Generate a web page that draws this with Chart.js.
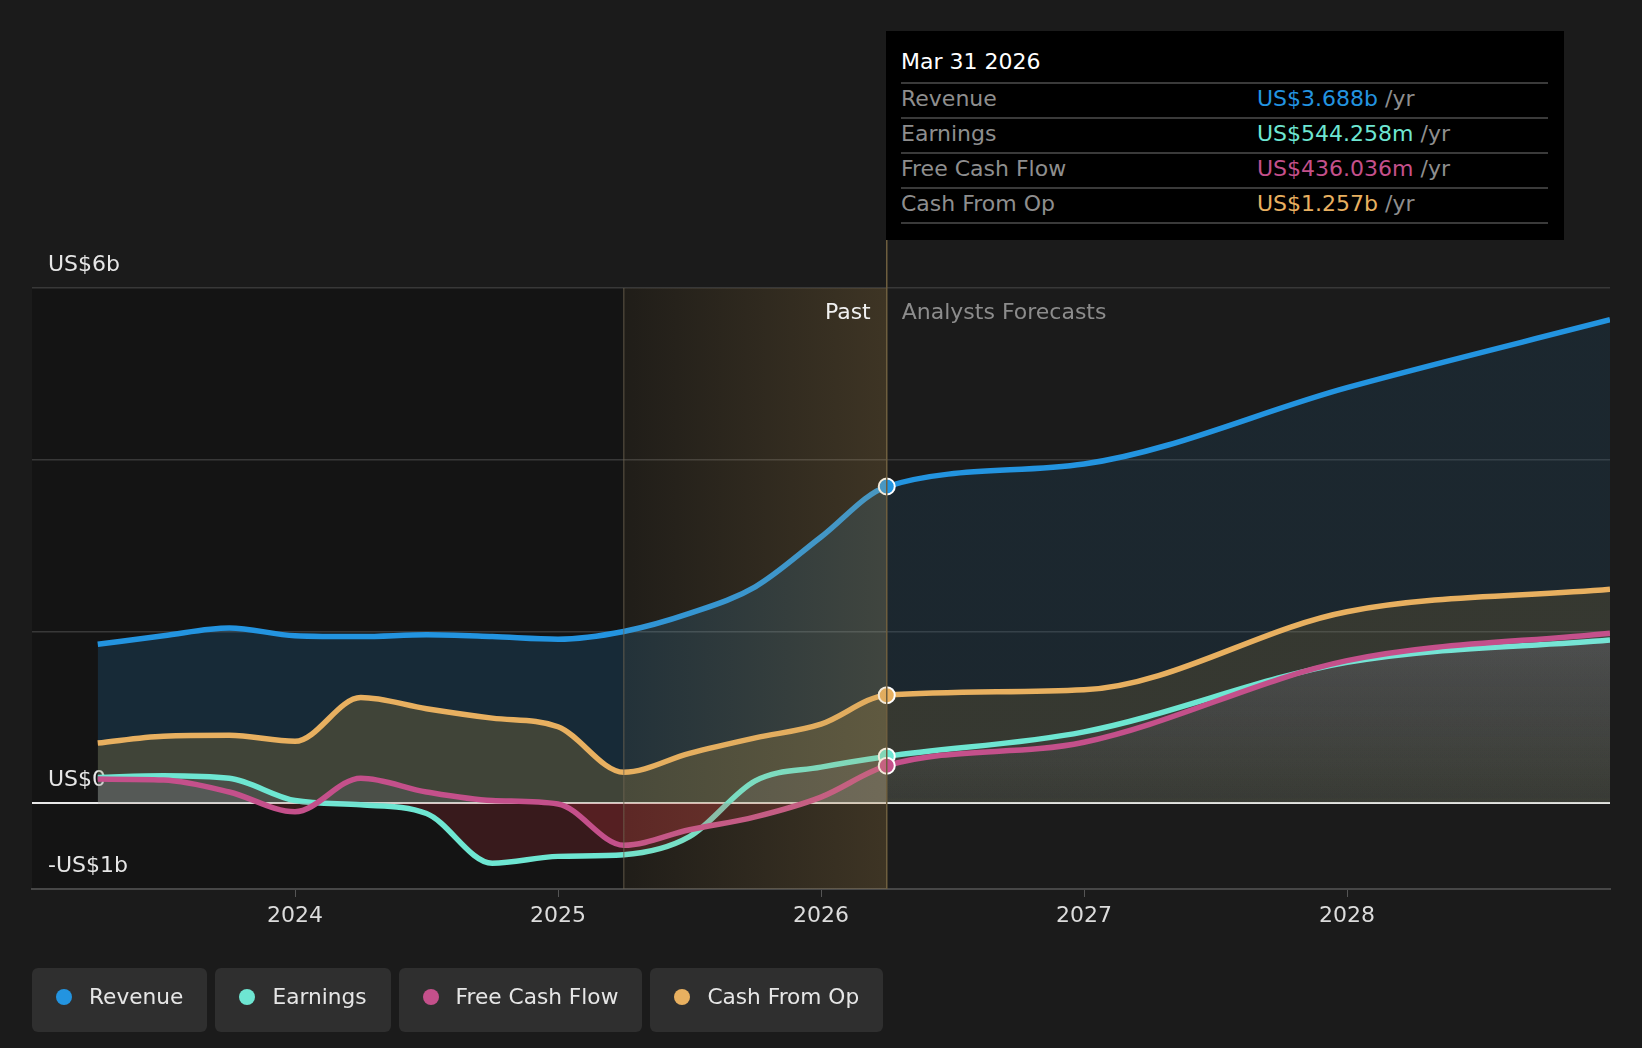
<!DOCTYPE html>
<html>
<head>
<meta charset="utf-8">
<script src="https://cdn.jsdelivr.net/npm/chart.js@4.4.1/dist/chart.umd.min.js"></script>
<style>
  html, body { margin: 0; padding: 0; background: #1b1b1b; }
  body { width: 1642px; height: 1048px; position: relative; overflow: hidden; font-family: "DejaVu Sans", sans-serif; }
  #wrap { position: absolute; left: 0; top: 0; width: 1642px; height: 1048px; }
  #tip { position: absolute; left: 886px; top: 31px; width: 678px; height: 209px; background: #000; box-sizing: border-box; padding: 18px 16px 0 15px; }
  #tip .title { color: #fff; font-size: 22px; line-height: 26px; margin-bottom: 7px; }
  #tip .row { border-top: 2px solid #3a3a3a; height: 33px; line-height: 29px; font-size: 22px; display: flex; }
  #tip .row.last { height: 0; }
  #tip .lab { width: 356px; color: #8e8e8e; }
  #tip .unit { color: #8e8e8e; }
  #legend { position: absolute; left: 32px; top: 968px; display: flex; gap: 8px; }
  #legend .item { height: 64px; box-sizing: border-box; border-radius: 6px; background: #2f2f2f; display: flex; align-items: center; padding: 0 24px 7px 24px; color: #e6e6e6; font-size: 21.7px; }
  #legend .dot { width: 16px; height: 16px; border-radius: 50%; margin-right: 17px; }
</style>
</head>
<body>
<div id="wrap"><canvas id="chart"></canvas></div>
<div id="tip"></div>
<div id="legend"></div>
<script>
// quarterly history, then analyst forecasts (US$ billions)
const periods = ['Mar 2023', 'Jun 2023', 'Sep 2023', 'Dec 2023', 'Mar 2024', 'Jun 2024', 'Sep 2024', 'Dec 2024',
  'Mar 2025', 'Jun 2025', 'Sep 2025', 'Dec 2025', 'Mar 2026', 'Dec 2026', 'Dec 2027', 'Dec 2028'];
const revenue = [1.85, 1.95, 2.04, 1.95, 1.94, 1.96, 1.94, 1.91, 2.00, 2.21, 2.52, 3.10, 3.688, 3.95, 4.84, 5.63];
const earnings = [0.30, 0.32, 0.29, 0.03, -0.02, -0.12, -0.70, -0.62, -0.60, -0.39, 0.26, 0.42, 0.544, 0.83, 1.64, 1.90];
const freeCashFlow = [0.28, 0.27, 0.13, -0.10, 0.29, 0.13, 0.03, -0.01, -0.49, -0.31, -0.16, 0.07, 0.436, 0.71, 1.66, 1.98];
const cashFromOp = [0.70, 0.78, 0.79, 0.72, 1.23, 1.10, 0.99, 0.89, 0.36, 0.58, 0.76, 0.92, 1.257, 1.32, 2.23, 2.49];

const xTickYears = [2024, 2025, 2026, 2027, 2028];
const yTickValues = [-1, 0, 2, 4, 6];
const yTickLabels = ['-US$1b', 'US$0', '', '', 'US$6b'];

const markerPeriod = 'Mar 2026';
const bandStart = 'Mar 2025';
const tipTitle = 'Mar 31 2026';
const tipValues = ['US$3.688b', 'US$544.258m', 'US$436.036m', 'US$1.257b'];

const names = ['Revenue', 'Earnings', 'Free Cash Flow', 'Cash From Op'];
const colors = ['#2394e0', '#6ee6d2', '#c4508b', '#e8b060'];

const FONT = '"DejaVu Sans", sans-serif';
const months = { Mar: 3, Jun: 6, Sep: 9, Dec: 12 };
function toYear(p) {
  const [m, y] = p.split(' ');
  return Number(y) + months[m] / 12;
}
const markerIndex = periods.indexOf(markerPeriod);

// fill styles: past part is a bit stronger, forecast part lighter
const fillStyles = [
  { above: 'rgba(35,148,224,0.17)', below: 'rgba(35,148,224,0.17)', future: ['rgba(35,148,224,0.1)', 'rgba(35,148,224,0.1)'] },
  { above: 'rgba(210,205,255,0.08)', below: 'rgba(200,50,60,0.2)', future: ['rgba(210,205,255,0.08)', 'rgba(210,205,255,0.012)'] },
  { above: 'rgba(210,205,255,0.08)', below: 'rgba(200,50,60,0.2)', future: ['rgba(210,205,255,0.08)', 'rgba(210,205,255,0.012)'] },
  { above: 'rgba(230,170,60,0.2)', below: 'rgba(230,170,60,0.2)', future: ['rgba(230,170,60,0.13)', 'rgba(230,170,60,0.13)'] }
];
const patterns = {};

function areaFill(i) {
  return ctx => {
    const chart = ctx.chart;
    const st = fillStyles[i];
    if (!chart.chartArea || !chart.scales.y) return st.above;
    const key = i + ':' + chart.width + 'x' + chart.height;
    if (patterns[key]) return patterns[key];
    const { x, y } = chart.scales;
    const off = document.createElement('canvas');
    off.width = chart.width;
    off.height = chart.height;
    const c = off.getContext('2d');
    const now = x.getPixelForValue(toYear(markerPeriod));
    const zero = y.getPixelForValue(0);
    c.fillStyle = st.above;
    c.fillRect(0, 0, now, zero);
    c.fillStyle = st.below;
    c.fillRect(0, zero, now, chart.height - zero);
    const g = c.createLinearGradient(0, y.getPixelForValue(2), 0, zero);
    g.addColorStop(0, st.future[0]);
    g.addColorStop(1, st.future[1]);
    c.fillStyle = g;
    c.fillRect(now, 0, chart.width - now, chart.height);
    patterns[key] = chart.ctx.createPattern(off, 'no-repeat');
    return patterns[key];
  };
}

// draw order: revenue at the back, then cash from op, earnings, FCF in front
const depth = [4, 2, 1, 3];

function series(values, i) {
  return {
    label: names[i],
    data: periods.map((p, k) => ({ x: toYear(p), y: values[k] })),
    borderColor: colors[i],
    borderWidth: 5.5,
    cubicInterpolationMode: 'monotone',
    fill: 'origin',
    backgroundColor: areaFill(i),
    order: depth[i],
    pointRadius: ctx => ctx.dataIndex === markerIndex ? 8 : 0,
    pointBackgroundColor: colors[i],
    pointBorderColor: '#fff',
    pointBorderWidth: 2
  };
}

const bandPlugin = {
  id: 'band',
  beforeDraw(chart) {
    const { ctx, chartArea: a, scales: { x } } = chart;
    const now = x.getPixelForValue(toYear(markerPeriod));
    ctx.save();
    ctx.fillStyle = '#141414';
    ctx.fillRect(a.left, a.top, now - a.left, a.bottom - a.top);
    ctx.restore();
  },
  afterDatasetsDraw(chart) {
    const { ctx, chartArea: a, scales: { x } } = chart;
    const now = x.getPixelForValue(toYear(markerPeriod));
    const start = x.getPixelForValue(toYear(bandStart));
    ctx.save();
    const g = ctx.createLinearGradient(start, 0, now, 0);
    g.addColorStop(0, 'rgba(200,160,90,0.065)');
    g.addColorStop(1, 'rgba(200,160,90,0.23)');
    ctx.fillStyle = g;
    ctx.fillRect(start, a.top, now - start, a.bottom - a.top);
    ctx.lineWidth = 1.5;
    ctx.strokeStyle = 'rgba(110,100,80,0.55)';
    ctx.beginPath();
    ctx.moveTo(start, a.top);
    ctx.lineTo(start, a.bottom);
    ctx.stroke();
    ctx.strokeStyle = '#6e5e3e';
    ctx.beginPath();
    ctx.moveTo(now, a.top - 48);
    ctx.lineTo(now, a.bottom);
    ctx.stroke();
    ctx.font = '22px ' + FONT;
    ctx.textBaseline = 'middle';
    ctx.textAlign = 'right';
    ctx.fillStyle = '#f0f0f0';
    ctx.fillText('Past', now - 16, a.top + 25);
    ctx.textAlign = 'left';
    ctx.fillStyle = '#8c8c8c';
    ctx.fillText('Analysts Forecasts', now + 15, a.top + 25);
    ctx.restore();
  }
};

new Chart(document.getElementById('chart'), {
  type: 'line',
  data: {
    datasets: [
      series(revenue, 0),
      series(earnings, 1),
      series(freeCashFlow, 2),
      series(cashFromOp, 3)
    ]
  },
  options: {
    responsive: true,
    maintainAspectRatio: false,
    animation: false,
    events: [],
    layout: { padding: { top: 288, right: 32, bottom: 113, left: 0 } },
    plugins: { legend: { display: false }, tooltip: { enabled: false } },
    scales: {
      x: {
        type: 'linear',
        min: 2023,
        max: 2029,
        afterBuildTicks: s => { s.ticks = xTickYears.map(v => ({ value: v })); },
        afterFit: s => { s.height = 46; },
        ticks: { callback: v => String(v), color: '#dcdcdc', font: { size: 22, family: FONT }, padding: 6, maxRotation: 0, autoSkip: false },
        grid: { drawOnChartArea: false, drawTicks: true, tickLength: 8, color: '#555' },
        border: { color: '#474747', width: 2 }
      },
      y: {
        min: -1,
        max: 6,
        afterBuildTicks: s => { s.ticks = yTickValues.map(v => ({ value: v })); },
        afterFit: s => { s.width = 32; },
        ticks: {
          mirror: true,
          padding: 16,
          labelOffset: -23,
          color: '#e6e6e6',
          font: { size: 22, family: FONT },
          callback: v => yTickLabels[yTickValues.indexOf(v)]
        },
        grid: {
          drawTicks: false,
          color: c => c.tick.value === 0 ? '#e8e8e8' : (c.tick.value > 0 ? '#383838' : 'rgba(0,0,0,0)'),
          lineWidth: c => c.tick.value === 0 ? 2 : 1.5
        },
        border: { display: false }
      }
    }
  },
  plugins: [bandPlugin]
});

// tooltip box for the latest reported period
const tip = document.getElementById('tip');
tip.innerHTML = '<div class="title">' + tipTitle + '</div>' +
  names.map((n, i) => '<div class="row"><span class="lab">' + n + '</span><span style="color:' + colors[i] + '">' +
    tipValues[i] + '</span><span class="unit">&nbsp;/yr</span></div>').join('') +
  '<div class="row last"></div>';

// legend chips
document.getElementById('legend').innerHTML = names.map((n, i) =>
  '<div class="item"><span class="dot" style="background:' + colors[i] + '"></span>' + n + '</div>').join('');
</script>
</body>
</html>
